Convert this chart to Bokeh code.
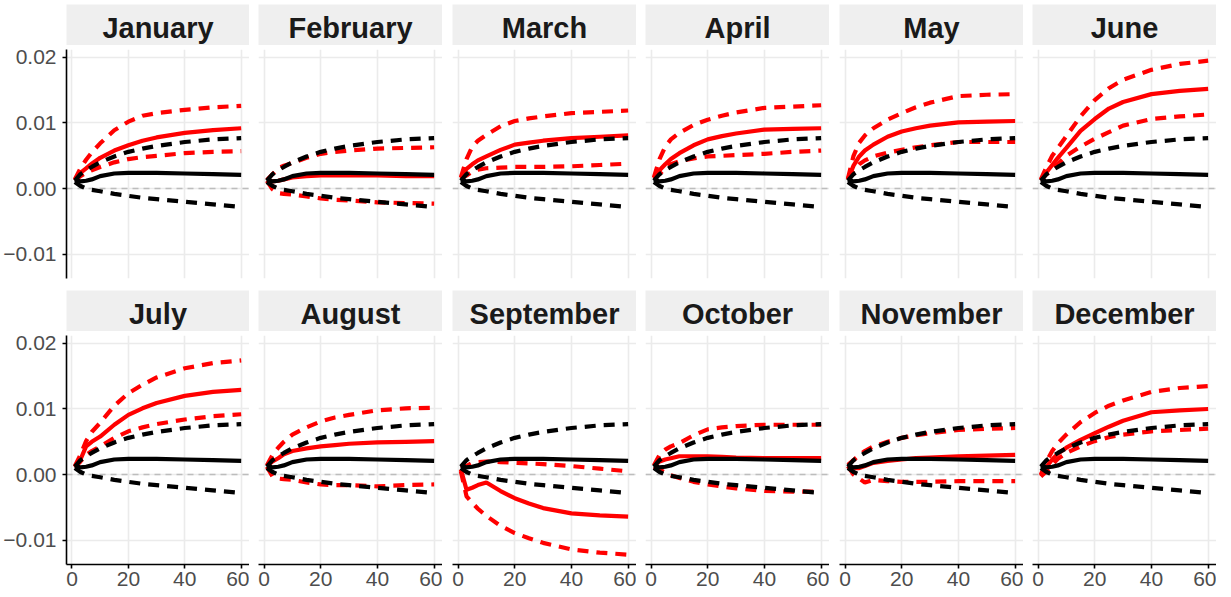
from bokeh.plotting import figure
from bokeh.layouts import gridplot
from bokeh.models import FixedTicker, Span, Range1d
from bokeh.core.properties import value
from bokeh.embed import file_html
from bokeh.resources import INLINE

# ---------------- data ----------------
months = ["January", "February", "March", "April", "May", "June",
          "July", "August", "September", "October", "November", "December"]
horizon = [1, 3, 5, 7, 10, 15, 20, 25, 30, 40, 50, 60]

# baseline response (black), identical in every panel
base_mid = [0.0014, 0.0011, 0.0012, 0.0014, 0.0019, 0.0023, 0.0024, 0.0024, 0.0024, 0.0023, 0.0022, 0.0021]
base_upper = [0.0012, 0.0022, 0.0028, 0.0033, 0.0040, 0.0049, 0.0056, 0.0061, 0.0065, 0.0071, 0.0075, 0.0077]
base_lower = [0.0010, 0.0004, 0.0000, -0.0002, -0.0004, -0.0008, -0.0011, -0.0014, -0.0016, -0.0020, -0.0024, -0.0028]

# month-specific response (red)
red_mid = [
    [0.0013, 0.0024, 0.0031, 0.0038, 0.0047, 0.0058, 0.0066, 0.0073, 0.0078, 0.0085, 0.0089, 0.0092],
    [0.0013, 0.0011, 0.0012, 0.0014, 0.0017, 0.0019, 0.0020, 0.0020, 0.0020, 0.0020, 0.0019, 0.0019],
    [0.0016, 0.0030, 0.0037, 0.0043, 0.0049, 0.0059, 0.0067, 0.0070, 0.0073, 0.0077, 0.0079, 0.0081],
    [0.0016, 0.0028, 0.0037, 0.0045, 0.0054, 0.0066, 0.0075, 0.0080, 0.0084, 0.0090, 0.0091, 0.0092],
    [0.0014, 0.0035, 0.0049, 0.0058, 0.0067, 0.0079, 0.0087, 0.0092, 0.0096, 0.0101, 0.0102, 0.0103],
    [0.0013, 0.0025, 0.0036, 0.0047, 0.0062, 0.0088, 0.0106, 0.0122, 0.0132, 0.0144, 0.0149, 0.0152],
    [0.0012, 0.0023, 0.0043, 0.0050, 0.0058, 0.0076, 0.0091, 0.0101, 0.0109, 0.0120, 0.0126, 0.0129],
    [0.0013, 0.0020, 0.0025, 0.0031, 0.0036, 0.0040, 0.0043, 0.0045, 0.0047, 0.0049, 0.0050, 0.0051],
    [0.0008, -0.0023, -0.0020, -0.0016, -0.0012, -0.0025, -0.0036, -0.0044, -0.0051, -0.0059, -0.0062, -0.0064],
    [0.0013, 0.0020, 0.0023, 0.0025, 0.0028, 0.0028, 0.0028, 0.0027, 0.0026, 0.0025, 0.0025, 0.0025],
    [0.0014, 0.0010, 0.0010, 0.0013, 0.0018, 0.0021, 0.0023, 0.0025, 0.0026, 0.0028, 0.0029, 0.0030],
    [-0.0002, 0.0012, 0.0023, 0.0032, 0.0041, 0.0053, 0.0063, 0.0073, 0.0082, 0.0095, 0.0098, 0.0100],
]
red_upper = [
    [0.0014, 0.0031, 0.0044, 0.0055, 0.0069, 0.0089, 0.0102, 0.0111, 0.0115, 0.0120, 0.0124, 0.0126],
    [0.0013, 0.0022, 0.0031, 0.0035, 0.0039, 0.0047, 0.0053, 0.0056, 0.0058, 0.0061, 0.0062, 0.0063],
    [0.0017, 0.0045, 0.0064, 0.0073, 0.0082, 0.0095, 0.0103, 0.0107, 0.0110, 0.0115, 0.0117, 0.0119],
    [0.0017, 0.0045, 0.0064, 0.0075, 0.0085, 0.0097, 0.0105, 0.0111, 0.0116, 0.0123, 0.0125, 0.0127],
    [0.0015, 0.0050, 0.0070, 0.0081, 0.0092, 0.0105, 0.0115, 0.0124, 0.0131, 0.0141, 0.0143, 0.0144],
    [0.0014, 0.0033, 0.0050, 0.0062, 0.0080, 0.0110, 0.0135, 0.0153, 0.0166, 0.0181, 0.0190, 0.0195],
    [0.0013, 0.0030, 0.0051, 0.0065, 0.0079, 0.0105, 0.0124, 0.0137, 0.0148, 0.0162, 0.0170, 0.0174],
    [0.0014, 0.0030, 0.0041, 0.0050, 0.0061, 0.0072, 0.0081, 0.0087, 0.0091, 0.0098, 0.0101, 0.0102],
    [0.0010, 0.0013, 0.0018, 0.0019, 0.0020, 0.0019, 0.0018, 0.0017, 0.0016, 0.0013, 0.0009, 0.0005],
    [0.0014, 0.0030, 0.0038, 0.0043, 0.0048, 0.0060, 0.0069, 0.0072, 0.0074, 0.0076, 0.0076, 0.0076],
    [0.0015, 0.0022, 0.0030, 0.0036, 0.0043, 0.0050, 0.0056, 0.0060, 0.0063, 0.0068, 0.0070, 0.0071],
    [0.0000, 0.0020, 0.0036, 0.0048, 0.0061, 0.0080, 0.0094, 0.0105, 0.0113, 0.0126, 0.0132, 0.0135],
]
red_lower = [
    [0.0012, 0.0019, 0.0024, 0.0028, 0.0033, 0.0040, 0.0045, 0.0048, 0.0050, 0.0054, 0.0056, 0.0057],
    [0.0012, -0.0001, -0.0007, -0.0008, -0.0009, -0.0012, -0.0015, -0.0017, -0.0018, -0.0021, -0.0022, -0.0023],
    [0.0015, 0.0020, 0.0026, 0.0029, 0.0031, 0.0032, 0.0033, 0.0033, 0.0033, 0.0034, 0.0036, 0.0038],
    [0.0015, 0.0022, 0.0031, 0.0037, 0.0042, 0.0046, 0.0049, 0.0050, 0.0051, 0.0053, 0.0056, 0.0058],
    [0.0013, 0.0027, 0.0037, 0.0043, 0.0049, 0.0055, 0.0059, 0.0063, 0.0066, 0.0071, 0.0071, 0.0071],
    [0.0012, 0.0022, 0.0030, 0.0038, 0.0050, 0.0064, 0.0076, 0.0086, 0.0096, 0.0106, 0.0110, 0.0113],
    [0.0011, 0.0020, 0.0030, 0.0036, 0.0043, 0.0056, 0.0066, 0.0072, 0.0077, 0.0084, 0.0089, 0.0092],
    [0.0012, -0.0003, -0.0006, -0.0007, -0.0008, -0.0012, -0.0015, -0.0016, -0.0016, -0.0018, -0.0016, -0.0015],
    [0.0005, -0.0033, -0.0043, -0.0052, -0.0063, -0.0078, -0.0089, -0.0097, -0.0104, -0.0114, -0.0119, -0.0122],
    [0.0012, 0.0008, 0.0003, -0.0001, -0.0005, -0.0011, -0.0015, -0.0018, -0.0021, -0.0025, -0.0026, -0.0026],
    [0.0013, 0.0000, -0.0006, -0.0012, -0.0008, -0.0010, -0.0011, -0.0011, -0.0011, -0.0010, -0.0010, -0.0010],
    [-0.0003, 0.0005, 0.0015, 0.0024, 0.0033, 0.0043, 0.0051, 0.0057, 0.0061, 0.0066, 0.0068, 0.0070],
]

x_ticks = [0, 20, 40, 60]
y_ticks = [-0.01, 0.0, 0.01, 0.02]
y_tick_labels = {-0.01: "\u22120.01", 0.0: "0.00", 0.01: "0.01", 0.02: "0.02"}

# ---------------- layout constants ----------------
FONT = "Liberation Sans"
X_RANGE = (-1.95, 62.95)
Y_RANGE = (-0.0137, 0.0212)
FRAME_W, FRAME_H = 184, 229
LEFTS = [65, 9, 10, 9, 10, 9]
STRIP_H = [45, 42]
STRIP_TOP = [4, 1]
STRIP_TEXT_Y = [0.42, 0.415]
TOP = 4
BOTTOM = [11, 31]
LW = 4.2
DASH = "11 8"


def make_strip(name, row, col):
    left = LEFTS[col]
    s = figure(width=left + FRAME_W, height=STRIP_H[row], x_range=Range1d(0, 1), y_range=Range1d(0, 1),
               x_axis_location=None, y_axis_location=None,
               toolbar_location=None, output_backend="svg",
               min_border_left=left, min_border_right=0, min_border_top=STRIP_TOP[row], min_border_bottom=0,
               background_fill_color="#efefef", border_fill_color="white", outline_line_color=None)
    s.grid.visible = False
    s.text(x=[0.5], y=[STRIP_TEXT_Y[row]], text=[name], text_align="center", text_baseline="middle",
           text_font=value(FONT), text_font_style="bold", text_font_size="29px", text_color="#1a1a1a")
    return s


def style_axis(ax, ticks):
    ax.ticker = FixedTicker(ticks=ticks)
    ax.axis_line_color = "black"
    ax.axis_line_width = 1.6
    ax.major_tick_line_color = "black"
    ax.major_tick_line_width = 1.6
    ax.major_tick_out = 4
    ax.major_tick_in = 0
    ax.minor_tick_line_color = None
    ax.major_label_text_font = FONT
    ax.major_label_text_font_size = "21px"
    ax.major_label_text_color = "#4d4d4d"


def make_panel(i, row, col):
    left = LEFTS[col]
    bottom = BOTTOM[row]
    p = figure(width=left + FRAME_W, height=TOP + FRAME_H + bottom,
               x_range=Range1d(*X_RANGE), y_range=Range1d(*Y_RANGE),
               x_axis_location="below" if row == 1 else None,
               y_axis_location="left" if col == 0 else None,
               toolbar_location=None, output_backend="svg",
               min_border_left=left, min_border_right=0, min_border_top=TOP, min_border_bottom=bottom,
               background_fill_color="white", border_fill_color="white", outline_line_color=None)
    p.xgrid.ticker = FixedTicker(ticks=x_ticks)
    p.ygrid.ticker = FixedTicker(ticks=y_ticks)
    p.grid.grid_line_color = "#ebebeb"
    p.grid.grid_line_width = 1.6
    p.grid.minor_grid_line_color = None
    if row == 1:
        style_axis(p.xaxis[0], x_ticks)
        p.xaxis[0].major_label_standoff = 3
    if col == 0:
        style_axis(p.yaxis[0], y_ticks)
        p.yaxis[0].major_label_standoff = 6
        p.yaxis[0].major_label_overrides = y_tick_labels

    zero = Span(location=0, dimension="width", line_color="#bdbdbd", line_width=1.5,
                line_dash="6 5", level="underlay")
    p.add_layout(zero)

    # month-specific (red)
    p.line(horizon, red_upper[i], line_color="red", line_width=LW, line_dash=DASH)
    p.line(horizon, red_lower[i], line_color="red", line_width=LW, line_dash=DASH)
    p.line(horizon, red_mid[i], line_color="red", line_width=LW)
    # baseline (black)
    p.line(horizon, base_upper, line_color="black", line_width=LW, line_dash=DASH)
    p.line(horizon, base_lower, line_color="black", line_width=LW, line_dash=DASH)
    p.line(horizon, base_mid, line_color="black", line_width=LW)
    return p


rows = []
for r in range(2):
    rows.append([make_strip(months[6 * r + c], r, c) for c in range(6)])
    rows.append([make_panel(6 * r + c, r, c) for c in range(6)])

grid = gridplot(rows, toolbar_location=None)

open("out.html", "w").write(file_html(grid, INLINE))
